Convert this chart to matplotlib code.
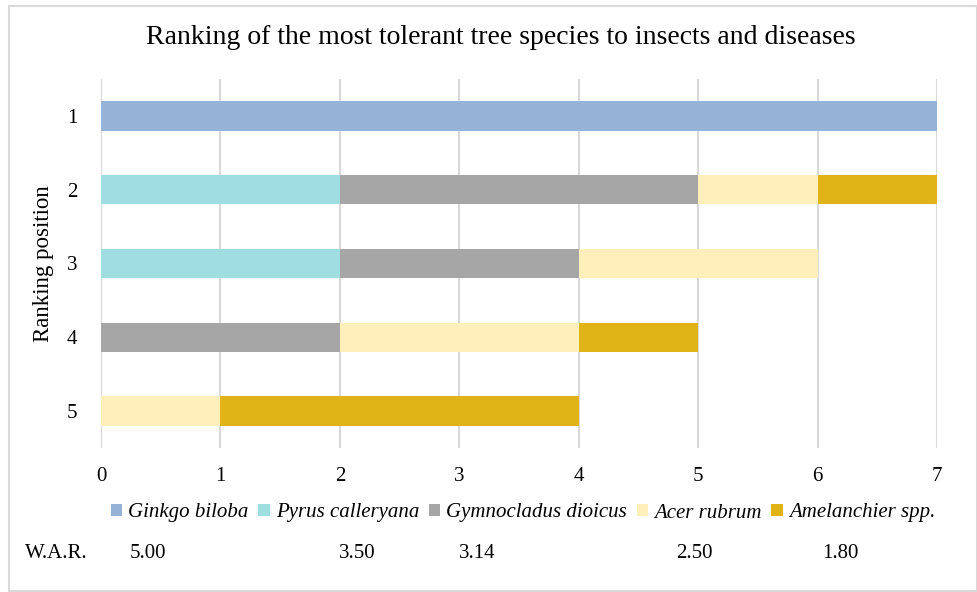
import numpy as np
import matplotlib.pyplot as plt
from matplotlib.patches import Rectangle

plt.rcParams['font.family'] = ['Liberation Serif', 'DejaVu Serif']

# ranking positions (top to bottom) and how many times each species got there
positions = ['1', '2', '3', '4', '5']
species = ['Ginkgo biloba', 'Pyrus calleryana', 'Gymnocladus dioicus',
           'Acer rubrum', 'Amelanchier spp.']
ginkgo = [7, 0, 0, 0, 0]
pyrus = [0, 2, 2, 0, 0]
gymnocladus = [0, 3, 2, 2, 0]
acer = [0, 1, 2, 2, 1]
amelanchier = [0, 1, 0, 1, 3]
colors = ['#95b3d7', '#a0dde0', '#a6a6a6', '#fff0bb', '#e0b417']

# weighted average rank per species
war_values = ['5.00', '3.50', '3.14', '2.50', '1.80']
war_x = [148, 357, 477, 694, 840]

fig = plt.figure(figsize=(9.78, 5.92), dpi=100)
ax = fig.add_axes([101 / 978, 1 - 448 / 592, 836 / 978, 369 / 592])

y = np.arange(1, len(positions) + 1)
left = np.zeros(len(positions))
for vals, name, c in zip([ginkgo, pyrus, gymnocladus, acer, amelanchier], species, colors):
    vals = np.array(vals, dtype=float)
    ax.barh(y, vals, left=left, height=0.4, color=c, label=name, zorder=3)
    left += vals

ax.set_xlim(0, 7)
ax.set_ylim(5.5, 0.5)
ax.set_yticks(y)
ax.set_yticklabels(positions)
ax.set_xticks(range(8))
ax.tick_params(length=0, labelsize=15)
ax.tick_params(axis='x', pad=14)
ax.tick_params(axis='y', pad=17)
ax.grid(axis='x', color='#d9d9d9', linewidth=1.5, zorder=0)
for s in ax.spines.values():
    s.set_visible(False)
ax.set_ylabel('Ranking position', fontsize=16.5)
ax.yaxis.set_label_coords(-47 / 836, 0.5)

fig.text(501 / 978, 1 - 38 / 592, 'Ranking of the most tolerant tree species to insects and diseases',
         ha='center', va='center', fontsize=20)

handles, labels = ax.get_legend_handles_labels()
fig.legend(handles, labels, loc='center', bbox_to_anchor=(523 / 978, 1 - 513 / 592),
           ncol=5, frameon=False, handlelength=0.55, handleheight=0.55,
           handletextpad=0.3, columnspacing=0.45, prop={'style': 'italic', 'size': 15})

fig.text(25 / 978, 1 - 553 / 592, 'W.A.R.', ha='left', va='center', fontsize=15)
for xv, t in zip(war_x, war_values):
    fig.text(xv / 978, 1 - 553 / 592, t, ha='center', va='center', fontsize=15)

# light frame around the whole chart
fig.patches.append(Rectangle((9 / 978, 1 / 592), 968 / 978, 585 / 592,
                             transform=fig.transFigure, fill=False,
                             edgecolor='#d9d9d9', linewidth=1.5))

fig.savefig('out.png', dpi=100)
